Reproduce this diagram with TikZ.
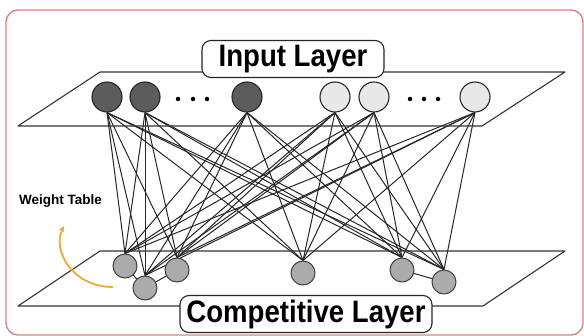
\documentclass[tikz,border=0pt]{standalone}
\usepackage{fontspec}
\setmainfont{Liberation Sans}
\newfontfamily\lblfont{Liberation Sans}[FakeStretch=0.89]
\usetikzlibrary{backgrounds,arrows.meta}
\definecolor{framered}{HTML}{D48484}
\definecolor{darknode}{HTML}{5C5C5C}
\definecolor{lightnode}{HTML}{E8E8E8}
\definecolor{compnode}{HTML}{ABABAB}
\definecolor{arroworange}{HTML}{EFA835}
\begin{document}
\begin{tikzpicture}[x=1pt,y=-1pt,
  innode/.style={circle, draw=black!85, line width=1.1pt, minimum size=30pt, inner sep=0pt},
  darkin/.style={innode, fill=darknode},
  lightin/.style={innode, fill=lightnode},
  compn/.style={circle, draw=black!75, line width=1pt, fill=compnode, minimum size=24pt, inner sep=0pt},
  layerlabel/.style={draw=black!85, line width=1.1pt, rounded corners=9pt, fill=white, font=\lblfont\bfseries\fontsize{31}{33}\selectfont, inner sep=0pt, minimum height=37pt},
  link/.style={line width=1pt, black!85},
  plane/.style={line width=1.1pt, black!80, line join=round},
  dotmark/.style={circle, fill=black, inner sep=0pt, minimum size=4.5pt},
  framebox/.style={draw=framered, line width=1.4pt, rounded corners=12pt},
  wtlabel/.style={font=\bfseries\fontsize{13.5}{15}\selectfont, anchor=west, inner sep=0pt},
  wtarrow/.style={arroworange, line width=1.8pt, -{Stealth[length=6pt,width=6pt]}}
]
\useasboundingbox (0,0) rectangle (584,336);
\path[framebox] (6,10) rectangle (583,335);

% planes
\draw[plane] (100,72) -- (565,72) -- (482,126) -- (18,126) -- cycle;
\draw[plane] (100,251) -- (565,251) -- (483,306) -- (18,306) -- cycle;

% labels
\node[layerlabel, minimum width=182pt] (inlab) at (293,59) {Input Layer};
\node[layerlabel, minimum width=252pt] (complab) at (306,314) {Competitive Layer};
\node[wtlabel] (wt) at (19,201) {Weight Table};

% input nodes
\node[darkin] (i1) at (107,97) {};
\node[darkin] (i2) at (145,97) {};
\node[darkin] (i3) at (247,97) {};
\node[lightin] (i4) at (335,97) {};
\node[lightin] (i5) at (374,97) {};
\node[lightin] (i6) at (475,97) {};
\node[dotmark] (da1) at (178,99) {};
\node[dotmark] (da2) at (193,99) {};
\node[dotmark] (da3) at (207,99) {};
\node[dotmark] (db1) at (410,99) {};
\node[dotmark] (db2) at (424,99) {};
\node[dotmark] (db3) at (438,99) {};

% competitive nodes
\node[compn] (ca) at (125,266) {};
\node[compn] (cb) at (145,288) {};
\node[compn] (cc) at (177,270) {};
\node[compn] (cd) at (303,273) {};
\node[compn] (ce) at (402,270) {};
\node[compn] (cf) at (444,282) {};

% weight table arrow
\coordinate (wa) at (113,287);
\coordinate (wb) at (64,226);
\draw[wtarrow] (wa) .. controls (72,287) and (52,250) .. (wb);

\begin{pgfonlayer}{background}
  \foreach \i in {1,...,6}
    \foreach \c in {a,b,c,d,e,f}
      \draw[link] (i\i.south) -- (c\c.north);
  \draw[link] (ca.center) -- (cb.center);
  \draw[link] (cb.center) -- (cc.center);
  \draw[link] (ce.center) -- (cf.center);
\end{pgfonlayer}
\end{tikzpicture}
\end{document}
